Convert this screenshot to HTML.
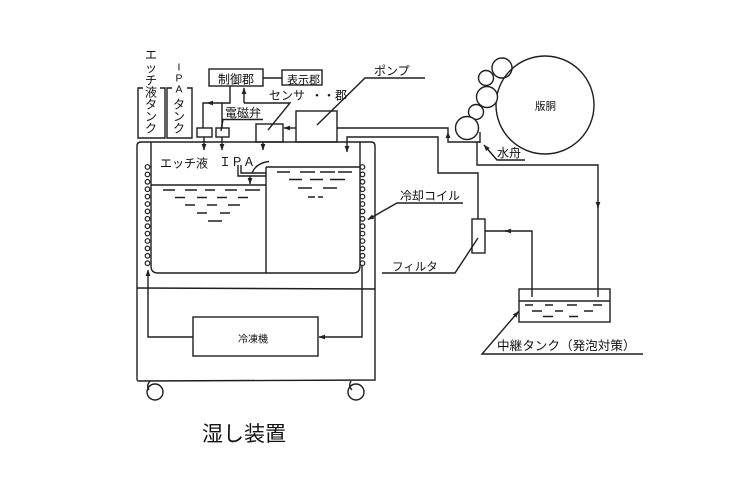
<!DOCTYPE html>
<html>
<head>
<meta charset="utf-8">
<style>
  html,body{margin:0;padding:0;background:#fff;}
  svg{display:block;}
  text{font-family:"Liberation Sans","Noto Sans CJK JP",sans-serif;fill:#111;}
</style>
</head>
<body>
<svg width="751" height="495" viewBox="0 0 751 495" xmlns="http://www.w3.org/2000/svg">
<defs>
  <marker id="a" markerWidth="7" markerHeight="6" refX="6" refY="3" orient="auto" markerUnits="userSpaceOnUse">
    <path d="M0,0.6 L6.5,3 L0,5.4 z" fill="#222"/>
  </marker>
</defs>
<g fill="none" stroke="#1e1e1e" stroke-width="1.4">
  <!-- cabinet -->
  <path d="M137,379 L137,146 Q137,142 141,142 L371,142 Q375,142 375,146 L375,380 L139,381 Q137,381 137,379"/>
  <!-- inner tank -->
  <path d="M151,142 L151,266 Q151,273 158,273 L353,273 Q360,273 360,266 L360,142"/>
  <line x1="266" y1="167" x2="266" y2="273"/>
  <line x1="266" y1="167" x2="360" y2="167"/>
  <line x1="151" y1="185" x2="266" y2="185"/>
  <!-- separator -->
  <line x1="137" y1="288" x2="375" y2="289"/>
  <!-- refrigerator -->
  <rect x="193" y="317" width="125" height="39"/>
  <path d="M193,337 L148,337 L148,270" marker-end="url(#a)"/>
  <path d="M362,265 L362,337 L319,337" marker-end="url(#a)"/>
  <!-- wheels -->
  <circle cx="155" cy="392" r="8"/>
  <path d="M150,381 Q146,386 149,390"/>
  <circle cx="356" cy="392" r="8"/>
  <path d="M351,381 Q348,386 352,390"/>
  <!-- top tanks brackets -->
  <path d="M143,88 L138,88 L138,138 L165,138 L165,88 L160,88"/>
  <path d="M172,88 L167,88 L167,138 L192,138 L192,88 L187,88"/>
  <!-- control boxes -->
  <rect x="209" y="69" width="54" height="17"/>
  <rect x="282" y="70" width="40" height="15"/>
  <line x1="263" y1="78" x2="282" y2="78"/>
  <path d="M230,86 L230,103 L207,103" marker-end="url(#a)"/>
  <path d="M207,103 L203,103 L203,128"/>
  <line x1="222" y1="103" x2="222" y2="128"/>
  <rect x="197" y="128" width="15" height="9"/>
  <rect x="216" y="128" width="13" height="9"/>
  <line x1="204" y1="137" x2="204" y2="150" marker-end="url(#a)"/>
  <line x1="222" y1="137" x2="222" y2="150" marker-end="url(#a)"/>
  <!-- 電磁弁 underline + leader -->
  <path d="M263,119.5 L223,119.5 L221,131"/>
  <!-- sensor feedback -->
  <path d="M244,103 L244,88" marker-end="url(#a)"/>
  <path d="M244,103 L290,103 L268,130"/>
  <!-- sensor & pump -->
  <rect x="256" y="124" width="27" height="18"/>
  <rect x="296" y="111" width="41" height="31"/>
  <line x1="296" y1="128" x2="284" y2="128" marker-end="url(#a)"/>
  <line x1="263" y1="142" x2="263" y2="150" marker-end="url(#a)"/>
  <!-- pump label leader -->
  <path d="M425,78 L365,78 L317,125"/>
  <!-- pump out pipe to pan -->
  <path d="M337,128 L448,128 L448,142 L480,142"/>
  <line x1="480" y1="132" x2="480" y2="143"/>
  <!-- return pipe from filter into tank -->
  <path d="M478,219 L478,173 L438,173 L438,137 L347,137 L347,152" marker-end="url(#a)"/>
  <!-- pan return to relay tank -->
  <path d="M477,142 L477,165 L598,165 L598,208" marker-end="url(#a)"/>
  <line x1="598" y1="206" x2="598" y2="297"/>
  <!-- relay tank -->
  <rect x="519" y="289" width="91" height="33"/>
  <line x1="519" y1="301" x2="610" y2="301"/>
  <path d="M532,297 L532,231 L505,231" marker-end="url(#a)"/>
  <line x1="507" y1="231" x2="485" y2="231"/>
  <!-- filter -->
  <rect x="472" y="219" width="13" height="34"/>
  <path d="M478,238 L455,273 L382,273"/>
  <!-- cooling coil leader -->
  <path d="M463,203 L397,203 L368,219.5" marker-end="url(#a)"/>
  <!-- relay tank leader -->
  <path d="M643,354 L482,354 L518.5,311.5" marker-end="url(#a)"/>
  <!-- 水舟 leader -->
  <path d="M525,160 L497,160 L484,145" marker-end="url(#a)"/>
  <!-- rollers -->
  <circle cx="545" cy="105" r="49"/>
  <circle cx="502" cy="68" r="10"/>
  <circle cx="486" cy="78" r="7.5" fill="#fff"/>
  <circle cx="487" cy="97" r="10.5" fill="#fff"/>
  <circle cx="476" cy="112" r="7.5" fill="#fff"/>
  <circle cx="467" cy="128" r="11.5" fill="#fff"/>
  <!-- IPA pipe -->
  <path d="M238,165 L238,176 L266,176"/>
  <path d="M241,165 L241,173 L266,173"/>
  <path d="M252,173 Q256,163 269,161.5"/>
  <line x1="250" y1="176" x2="250" y2="184" marker-end="url(#a)"/>
</g>
<!-- pan arrow -->
<path d="M445.5,138 L448,132 L450.5,138 z" fill="#222"/>
<!-- coils -->
<g fill="#fff" stroke="#1e1e1e" stroke-width="1.2">
  <circle cx="147.5" cy="167" r="2.3"/><circle cx="147.5" cy="174.4" r="2.3"/><circle cx="147.5" cy="181.8" r="2.3"/><circle cx="147.5" cy="189.2" r="2.3"/><circle cx="147.5" cy="196.6" r="2.3"/><circle cx="147.5" cy="204" r="2.3"/><circle cx="147.5" cy="211.4" r="2.3"/><circle cx="147.5" cy="218.8" r="2.3"/><circle cx="147.5" cy="226.2" r="2.3"/><circle cx="147.5" cy="233.6" r="2.3"/><circle cx="147.5" cy="241" r="2.3"/><circle cx="147.5" cy="248.4" r="2.3"/><circle cx="147.5" cy="255.8" r="2.3"/><circle cx="147.5" cy="263.2" r="2.3"/>
  <circle cx="362.5" cy="167" r="2.3"/><circle cx="362.5" cy="174.4" r="2.3"/><circle cx="362.5" cy="181.8" r="2.3"/><circle cx="362.5" cy="189.2" r="2.3"/><circle cx="362.5" cy="196.6" r="2.3"/><circle cx="362.5" cy="204" r="2.3"/><circle cx="362.5" cy="211.4" r="2.3"/><circle cx="362.5" cy="218.8" r="2.3"/><circle cx="362.5" cy="226.2" r="2.3"/><circle cx="362.5" cy="233.6" r="2.3"/><circle cx="362.5" cy="241" r="2.3"/><circle cx="362.5" cy="248.4" r="2.3"/><circle cx="362.5" cy="255.8" r="2.3"/><circle cx="362.5" cy="263.2" r="2.3"/>
</g>
<!-- liquid dashes -->
<g stroke="#1e1e1e" stroke-width="1.5">
  <line x1="163" y1="190" x2="175" y2="190"/><line x1="185" y1="190" x2="197" y2="190"/><line x1="205" y1="190" x2="215" y2="190"/><line x1="225" y1="190" x2="237" y2="190"/><line x1="245" y1="190" x2="260" y2="190"/>
  <line x1="175" y1="197.5" x2="185" y2="197.5"/><line x1="197" y1="197.5" x2="207" y2="197.5"/><line x1="217" y1="197.5" x2="227" y2="197.5"/><line x1="238" y1="197.5" x2="248" y2="197.5"/>
  <line x1="185" y1="205" x2="195" y2="205"/><line x1="207" y1="205" x2="217" y2="205"/><line x1="228" y1="205" x2="240" y2="205"/>
  <line x1="197" y1="213" x2="207" y2="213"/><line x1="220" y1="213" x2="230" y2="213"/>
  <line x1="208" y1="221" x2="222" y2="221"/>
  <line x1="277" y1="172" x2="290" y2="172"/><line x1="300" y1="172" x2="315" y2="172"/><line x1="320" y1="172" x2="335" y2="172"/><line x1="338" y1="172" x2="352" y2="172"/>
  <line x1="289" y1="179.5" x2="302" y2="179.5"/><line x1="310" y1="179.5" x2="323" y2="179.5"/><line x1="330" y1="179.5" x2="345" y2="179.5"/>
  <line x1="298" y1="188" x2="312" y2="188"/><line x1="323" y1="188" x2="337" y2="188"/>
  <line x1="308" y1="197" x2="315" y2="197"/><line x1="318" y1="197" x2="323" y2="197"/>
  <line x1="525" y1="305" x2="533" y2="305"/><line x1="545" y1="305" x2="553" y2="305"/><line x1="567" y1="305" x2="577" y2="305"/><line x1="593" y1="305" x2="602" y2="305"/>
  <line x1="532" y1="311" x2="542" y2="311"/><line x1="555" y1="311" x2="563" y2="311"/><line x1="584" y1="311" x2="593" y2="311"/>
  <line x1="543" y1="316.5" x2="553" y2="316.5"/><line x1="569" y1="316.5" x2="578" y2="316.5"/>
</g>
<!-- text -->
<g font-size="12" text-anchor="middle">
  <text x="151" y="59">エ</text><text x="151" y="72">ッ</text><text x="151" y="84.5">チ</text><text x="151" y="96.5">液</text><text x="151" y="108.5">タ</text><text x="151" y="120.5">ン</text><text x="151" y="132.5">ク</text>
  <text x="179" y="70.5" font-size="10.5">I</text><text x="179" y="81.5" font-size="10.5">P</text><text x="179" y="92.5" font-size="10.5">A</text><text x="179" y="108.5">タ</text><text x="179" y="120.5">ン</text><text x="179" y="132.5">ク</text>
</g>
<text x="218" y="83.5" font-size="12">制御郡</text>
<text x="287" y="83.5" font-size="11">表示郡</text>
<text x="269" y="99.5" font-size="12">センサ</text>
<text x="311" y="99.5" font-size="12">・・郡</text>
<text x="225" y="117" font-size="12">電磁弁</text>
<text x="374" y="75" font-size="12">ポンプ</text>
<text x="160" y="167.5" font-size="12">エッチ液</text>
<text x="219" y="166" font-size="12">ＩＰＡ</text>
<text x="400" y="200" font-size="12">冷却コイル</text>
<text x="392" y="270.5" font-size="11.5">フィルタ</text>
<text x="238" y="342.5" font-size="10">冷凍機</text>
<text x="535" y="109.5" font-size="10.5">版胴</text>
<text x="497" y="157" font-size="12">水舟</text>
<text x="497" y="350" font-size="12.6">中継タンク（発泡対策）</text>
<text x="202" y="441" font-size="21">湿し装置</text>
</svg>
</body>
</html>
